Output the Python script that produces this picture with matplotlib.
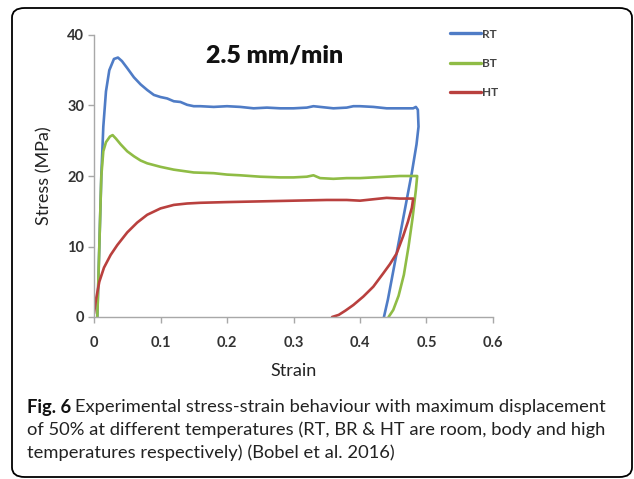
import matplotlib.pyplot as plt
from matplotlib.patches import FancyBboxPatch

# curves (strain, stress in MPa)
rt_strain = [0.005, 0.008, 0.011, 0.014, 0.018, 0.023, 0.030, 0.036, 0.042, 0.050, 0.060, 0.070,
             0.080, 0.090, 0.100, 0.110, 0.120, 0.130, 0.140, 0.150, 0.160, 0.180, 0.200, 0.220,
             0.240, 0.260, 0.280, 0.300, 0.320, 0.330, 0.340, 0.360, 0.380, 0.390, 0.400, 0.420,
             0.440, 0.460, 0.480, 0.484, 0.487, 0.488, 0.485, 0.478, 0.470, 0.460, 0.450, 0.442, 0.436]
rt_stress = [0.0, 10.0, 20.0, 27.0, 32.0, 35.0, 36.6, 36.8, 36.3, 35.3, 34.0, 33.0,
             32.2, 31.5, 31.2, 31.0, 30.6, 30.5, 30.1, 29.9, 29.9, 29.8, 29.9, 29.8,
             29.6, 29.7, 29.6, 29.6, 29.7, 29.9, 29.8, 29.6, 29.7, 29.9, 29.9, 29.8,
             29.6, 29.6, 29.6, 29.8, 29.4, 27.0, 24.5, 20.5, 16.5, 11.5, 6.5, 2.5, 0.0]

bt_strain = [0.005, 0.008, 0.011, 0.014, 0.018, 0.024, 0.028, 0.033, 0.040, 0.050, 0.060, 0.070,
             0.080, 0.100, 0.120, 0.150, 0.180, 0.200, 0.220, 0.250, 0.280, 0.300, 0.320, 0.330,
             0.340, 0.360, 0.380, 0.400, 0.420, 0.440, 0.460, 0.480, 0.486, 0.484, 0.479, 0.473,
             0.466, 0.458, 0.450, 0.443]
bt_stress = [0.0, 10.0, 20.0, 23.5, 24.8, 25.6, 25.8, 25.3, 24.5, 23.5, 22.8, 22.2,
             21.8, 21.3, 20.9, 20.5, 20.4, 20.2, 20.1, 19.9, 19.8, 19.8, 19.9, 20.1,
             19.7, 19.6, 19.7, 19.7, 19.8, 19.9, 20.0, 20.0, 20.0, 18.0, 14.0, 10.0,
             6.0, 3.0, 1.0, 0.0]

ht_strain = [0.000, 0.003, 0.008, 0.015, 0.025, 0.035, 0.050, 0.065, 0.080, 0.100, 0.120, 0.140,
             0.160, 0.200, 0.250, 0.300, 0.350, 0.380, 0.400, 0.420, 0.440, 0.460, 0.480, 0.478,
             0.472, 0.465, 0.455, 0.445, 0.435, 0.420, 0.405, 0.390, 0.378, 0.368, 0.358]
ht_stress = [0.5, 2.5, 5.0, 7.0, 8.8, 10.2, 12.0, 13.4, 14.5, 15.4, 15.9, 16.1,
             16.2, 16.3, 16.4, 16.5, 16.6, 16.6, 16.5, 16.7, 16.9, 16.8, 16.8, 15.5,
             13.5, 11.5, 9.0, 7.5, 6.2, 4.3, 2.9, 1.7, 0.9, 0.3, 0.0]

series = [("RT", rt_strain, rt_stress, "#4f7cc6"),
          ("BT", bt_strain, bt_stress, "#8fbc45"),
          ("HT", ht_strain, ht_stress, "#b9403e")]

x_ticks = [0, 0.1, 0.2, 0.3, 0.4, 0.5, 0.6]
x_tick_labels = ["0", "0.1", "0.2", "0.3", "0.4", "0.5", "0.6"]
y_ticks = [0, 10, 20, 30, 40]

caption_lead = "Fig. 6"
caption_lines = ["Experimental stress-strain behaviour with maximum displacement",
                 "of 50% at different temperatures (RT, BR & HT are room, body and high",
                 "temperatures respectively) (Bobel et al. 2016)"]

W, H = 634, 479
fig = plt.figure(figsize=(W / 100, H / 100), dpi=100)
plt.rcParams['font.family'] = ['Lato', 'DejaVu Sans']

# rounded frame round the whole figure
frame = FancyBboxPatch((12 / W, 2 / H), 620 / W, 469 / H, boxstyle="round,pad=0,rounding_size=0.02",
                       transform=fig.transFigure, fill=False, edgecolor="black", linewidth=1.3)
fig.patches.append(frame)

ax = fig.add_axes([94 / W, 1 - 317 / H, 399 / W, 282 / H])
for name, xs, ys, col in series:
    ax.plot(xs, ys, color=col, linewidth=1.9, label=name, solid_capstyle="round")

ax.set_xlim(0, 0.6)
ax.set_ylim(0, 40)
ax.set_xticks(x_ticks)
ax.set_xticklabels(x_tick_labels)
ax.set_yticks(y_ticks)
for s in ["top", "right"]:
    ax.spines[s].set_visible(False)
for s in ["left", "bottom"]:
    ax.spines[s].set_color("#a8a8a8")
    ax.spines[s].set_linewidth(1.0)
ax.tick_params(colors="#a8a8a8", labelcolor="#333333", length=4, width=1.0, labelsize=10.5)
ax.tick_params(axis="x", pad=10)
ax.tick_params(axis="y", pad=3)
for lab in ax.get_xticklabels() + ax.get_yticklabels():
    lab.set_fontweight("bold")

ax.set_xlabel("Strain", fontsize=13, color="#222222", labelpad=9)
ax.set_ylabel("Stress (MPa)", fontsize=13, color="#222222", labelpad=11)
ax.text(275 / W, 1 - 55 / H, "2.5 mm/min", transform=fig.transFigure, ha="center", va="center",
        fontsize=18, fontweight="heavy", color="#111111")

leg = ax.legend(loc="upper left", bbox_to_anchor=(447 / W - 0.012, 1 - 18 / H), bbox_transform=fig.transFigure,
                frameon=False, fontsize=8.5, handlelength=2.6, handletextpad=0.1, labelspacing=1.55)
for t in leg.get_texts():
    t.set_color("#444444")
    t.set_fontweight("bold")
for ln in leg.get_lines():
    ln.set_linewidth(2.4)

# caption: bold lead-in followed by regular text, sized so line 1 spans the frame
fig.canvas.draw()
r = fig.canvas.get_renderer()
probe = fig.text(0, 0, caption_lead + " " + caption_lines[0], fontsize=13)
size = 13 * 578 / probe.get_window_extent(r).width
probe.remove()

lead = fig.text(27 / W, 1 - 407 / H, caption_lead, fontsize=size, fontweight="bold",
                va="center", color="#111111")
bb = lead.get_window_extent(r)
fig.text((bb.x1 + 4) / W, 1 - 407 / H, caption_lines[0], fontsize=size, va="center", color="#222222")
fig.text(27 / W, 1 - 430 / H, caption_lines[1], fontsize=size, va="center", color="#222222")
fig.text(27 / W, 1 - 453 / H, caption_lines[2], fontsize=size, va="center", color="#222222")

fig.savefig("out.png", dpi=100)
